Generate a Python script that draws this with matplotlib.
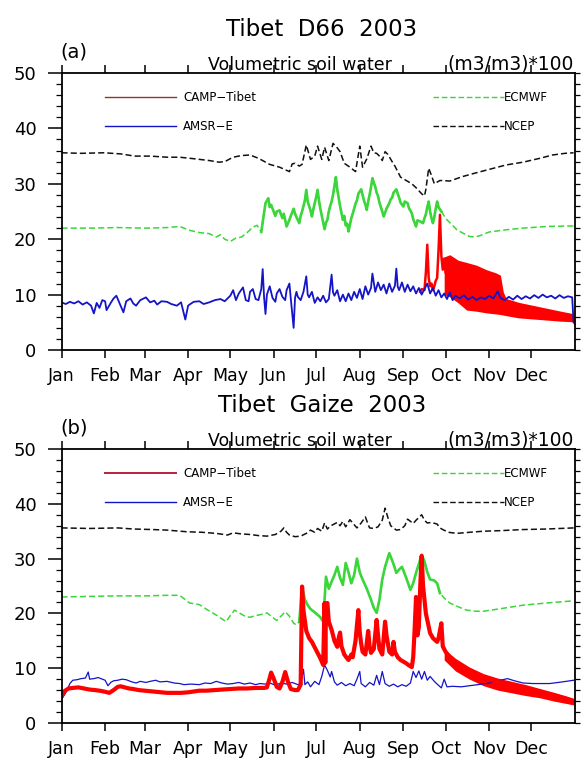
import numpy as np
import matplotlib
matplotlib.use("Agg")
import matplotlib.pyplot as plt
from matplotlib.lines import Line2D
from matplotlib.ticker import MultipleLocator

# ---------- DATA (day of year 2003, soil water (m3/m3)*100) ----------
MONTHS = ["Jan", "Feb", "Mar", "Apr", "May", "Jun",
          "Jul", "Aug", "Sep", "Oct", "Nov", "Dec"]
MONTH_START = [0, 31, 59, 90, 120, 151, 181, 212, 243, 273, 304, 334]

# panel (a) Tibet D66
A_NCEP = [(0, 35.6), (14, 35.5), (30, 35.6), (42, 35.4), (52, 35.0), (63, 35.0), (75, 34.8),
          (84, 34.8), (95, 34.5), (105, 34.2), (112, 33.9), (116, 34.0), (122, 34.8), (128, 35.1),
          (134, 35.2), (140, 34.6), (148, 33.5), (155, 33.0), (162, 32.2), (164, 33.6), (166, 33.7),
          (169, 33.2), (171, 33.5), (174, 37.0), (177, 34.4), (180, 35.0), (182, 36.8), (185, 34.4),
          (187, 36.6), (190, 34.2), (193, 37.3), (196, 36.5), (198, 35.8), (201, 33.7), (205, 33.0),
          (209, 32.2), (212, 36.8), (214, 33.0), (217, 34.5), (220, 36.8), (222, 35.6), (224, 35.5),
          (226, 35.0), (228, 34.2), (230, 35.8), (232, 35.3), (235, 34.0), (237, 33.2), (241, 31.2),
          (245, 30.6), (249, 30.0), (252, 29.3), (256, 28.2), (258, 27.8), (259, 29.0), (261, 32.8),
          (263, 31.5), (265, 30.0), (269, 30.6), (276, 30.5), (285, 31.3), (295, 32.0), (304, 32.6),
          (316, 33.4), (328, 33.9), (340, 34.6), (349, 35.2), (358, 35.5), (364, 35.6)]

A_ECMWF = [(0, 22.0), (20, 22.0), (40, 22.1), (60, 22.0), (75, 22.1), (84, 22.3), (91, 21.6),
           (98, 21.2), (105, 21.0), (110, 20.4), (113, 20.8), (116, 20.0), (120, 19.6), (124, 20.2),
           (128, 20.4), (132, 21.2), (136, 22.2), (139, 22.5), (142, 21.3), (145, 26.5), (147, 27.4),
           (148, 25.8), (149, 26.2), (152, 24.2), (153, 25.0), (155, 25.2), (157, 23.8), (158, 24.6),
           (160, 22.3), (162, 23.5), (163, 24.2), (165, 25.5), (166, 24.6), (167, 24.0), (169, 22.9),
           (170, 24.2), (171, 25.0), (173, 27.0), (174, 28.9), (175, 26.8), (176, 26.0), (177, 25.2),
           (178, 24.1), (179, 25.4), (180, 26.5), (181, 27.6), (182, 28.9), (183, 27.0), (184, 25.5),
           (186, 23.0), (187, 21.8), (188, 23.0), (189, 23.5), (190, 25.0), (191, 26.0), (192, 26.8),
           (193, 28.0), (194, 29.6), (195, 31.2), (196, 29.0), (197, 27.5), (198, 26.0), (200, 23.5),
           (201, 24.2), (202, 22.5), (203, 22.8), (204, 21.4), (205, 22.6), (206, 23.8), (207, 24.6),
           (208, 25.5), (209, 26.4), (210, 27.0), (211, 28.2), (213, 29.0), (214, 28.0), (215, 27.0),
           (216, 26.2), (217, 25.3), (218, 26.8), (219, 28.0), (220, 29.4), (221, 31.0), (222, 30.2),
           (223, 29.5), (224, 28.4), (225, 27.8), (226, 26.6), (227, 25.8), (228, 25.0), (229, 24.1),
           (230, 24.8), (231, 25.5), (232, 26.0), (233, 26.5), (234, 27.2), (235, 27.5), (236, 28.4),
           (238, 29.0), (239, 28.2), (240, 27.5), (241, 26.6), (243, 25.9), (244, 26.8), (246, 26.5),
           (247, 25.6), (249, 24.7), (250, 23.6), (252, 22.3), (253, 23.4), (255, 23.2), (257, 22.9),
           (258, 23.8), (259, 24.5), (260, 25.8), (261, 26.8), (262, 25.0), (263, 23.8), (264, 22.9),
           (265, 24.0), (266, 25.5), (267, 26.8), (268, 25.8), (270, 25.0), (272, 24.2), (274, 23.5),
           (278, 22.5), (281, 21.7), (286, 21.0), (290, 20.5), (294, 20.4), (297, 20.6), (304, 21.3),
           (316, 21.7), (328, 22.0), (345, 22.3), (364, 22.4)]

A_AMSR = [(0, 8.6), (3, 8.3), (6, 8.7), (9, 8.4), (12, 8.8), (15, 8.2), (18, 8.6), (21, 8.0),
          (23, 6.6), (25, 8.5), (27, 7.6), (29, 9.0), (31, 8.8), (32, 7.2), (35, 8.5), (37, 9.3),
          (39, 9.8), (41, 8.6), (44, 6.8), (46, 8.8), (49, 9.3), (51, 8.4), (53, 8.0), (56, 9.0),
          (60, 9.5), (63, 8.6), (66, 8.9), (68, 8.2), (71, 8.8), (75, 8.7), (78, 8.3), (82, 8.0),
          (85, 8.6), (88, 5.5), (90, 8.0), (91, 8.2), (94, 8.7), (98, 8.8), (101, 8.3), (105, 8.6),
          (109, 9.0), (113, 9.2), (116, 8.8), (120, 9.8), (122, 10.8), (124, 9.0), (126, 10.2),
          (129, 11.3), (131, 9.0), (133, 8.8), (134, 10.5), (136, 11.0), (138, 9.2), (140, 9.0),
          (142, 11.0), (143, 14.6), (144, 9.5), (145, 6.5), (146, 10.0), (148, 11.5), (150, 9.4),
          (152, 8.7), (153, 10.2), (155, 11.0), (157, 9.6), (159, 9.0), (160, 10.8), (162, 12.0),
          (163, 9.2), (165, 4.0), (166, 9.4), (167, 10.5), (168, 9.6), (170, 9.0), (172, 10.5),
          (174, 13.3), (175, 10.0), (176, 9.5), (178, 10.5), (180, 8.5), (182, 9.5), (184, 8.8),
          (186, 9.8), (188, 8.6), (190, 9.2), (192, 13.6), (193, 10.4), (194, 9.8), (196, 10.8),
          (198, 8.8), (200, 10.0), (202, 8.8), (204, 10.2), (206, 9.0), (208, 10.5), (210, 9.4),
          (212, 11.0), (214, 9.2), (216, 11.5), (218, 10.0), (220, 11.2), (221, 13.8), (223, 10.5),
          (225, 12.2), (227, 10.8), (229, 11.8), (231, 10.2), (233, 12.0), (235, 10.5), (237, 11.6),
          (238, 14.7), (239, 11.4), (240, 10.8), (242, 12.2), (244, 10.5), (246, 11.8), (248, 10.6),
          (250, 11.5), (252, 10.2), (254, 11.2), (256, 10.0), (258, 11.0), (260, 12.0), (262, 10.2),
          (264, 11.2), (266, 9.8), (268, 10.8), (270, 9.5), (272, 10.2), (274, 9.2), (276, 10.4),
          (278, 9.0), (280, 9.8), (283, 9.3), (286, 9.9), (289, 9.1), (292, 9.6), (295, 9.0),
          (298, 9.5), (301, 9.2), (304, 9.8), (307, 9.3), (310, 10.6), (312, 9.4), (315, 9.0),
          (318, 9.6), (321, 9.1), (324, 9.8), (327, 9.2), (330, 9.7), (333, 9.3), (336, 9.9),
          (339, 9.4), (342, 10.0), (345, 9.5), (348, 9.8), (351, 9.3), (354, 9.9), (357, 9.4),
          (360, 9.7), (363, 9.5), (364, 5.0)]

A_CAMP = [(255, 10.5), (256, 11.0), (258, 10.8), (259, 14.0), (260, 19.0), (261, 13.0),
          (262, 11.5), (263, 12.0), (264, 10.8), (265, 11.5), (266, 12.5), (267, 13.0),
          (268, 18.0), (269, 24.4), (270, 17.0), (271, 14.5), (272, 16.5), (273, 14.0)]
# Oct-Dec: diurnal range drawn as low / high envelope
A_CAMP_DAY = [272, 276, 282, 288, 295, 302, 309, 312, 314, 316, 325, 340, 355, 363, 365]
A_CAMP_LO = [10.0, 9.6, 8.5, 7.2, 7.0, 6.7, 6.5, 6.4, 6.3, 6.2, 5.8, 5.5, 5.2, 5.1, 4.2]
A_CAMP_HI = [16.8, 17.2, 16.2, 15.8, 15.3, 14.5, 13.9, 13.5, 10.5, 9.3, 8.6, 7.8, 7.0, 6.6, 5.5]

# panel (b) Tibet Gaize
B_NCEP = [(0, 35.6), (20, 35.5), (40, 35.6), (51, 35.4), (65, 35.3), (75, 35.2), (89, 34.9),
          (100, 34.8), (110, 34.6), (118, 34.3), (122, 34.7), (128, 34.5), (134, 34.4), (140, 34.2),
          (146, 34.1), (152, 34.4), (156, 35.0), (158, 35.6), (160, 34.8), (162, 34.3), (166, 34.0),
          (170, 34.1), (174, 34.6), (177, 35.2), (180, 34.8), (182, 35.5), (185, 35.0), (187, 36.5),
          (189, 35.4), (191, 35.9), (193, 36.2), (196, 36.6), (198, 36.0), (200, 36.8), (202, 35.8),
          (205, 37.1), (207, 36.5), (210, 35.6), (213, 36.5), (216, 37.6), (218, 36.2), (219, 35.6),
          (222, 35.5), (225, 35.8), (228, 37.0), (230, 39.2), (232, 37.5), (234, 36.0), (236, 35.6),
          (238, 35.2), (241, 35.3), (244, 36.0), (246, 37.2), (248, 36.8), (250, 36.4), (252, 37.0),
          (254, 37.5), (256, 38.0), (258, 37.0), (260, 36.5), (263, 36.6), (267, 36.3), (269, 35.6),
          (271, 35.3), (275, 34.8), (281, 34.6), (290, 34.8), (300, 35.0), (312, 35.1), (328, 35.3),
          (345, 35.4), (364, 35.6)]

B_ECMWF = [(0, 23.0), (20, 23.1), (40, 23.2), (60, 23.2), (75, 23.3), (84, 23.3), (88, 22.5),
           (91, 21.9), (98, 21.6), (104, 20.6), (110, 19.7), (114, 19.0), (117, 18.5), (120, 19.6),
           (123, 20.6), (127, 20.0), (131, 19.4), (134, 19.3), (138, 19.6), (142, 19.8), (146, 20.1),
           (149, 19.5), (153, 18.7), (156, 19.5), (159, 20.3), (162, 19.5), (165, 18.2), (167, 17.9),
           (169, 18.5), (171, 24.8), (173, 22.5), (175, 21.5), (177, 20.8), (180, 20.2), (184, 19.3),
           (186, 18.5), (188, 26.7), (190, 24.5), (192, 25.8), (194, 27.0), (196, 28.5), (198, 26.5),
           (200, 25.2), (202, 29.2), (204, 27.5), (206, 25.5), (208, 27.0), (210, 30.0), (212, 27.5),
           (214, 26.2), (217, 24.5), (220, 22.5), (222, 21.0), (224, 20.1), (226, 22.5), (228, 26.2),
           (230, 28.5), (233, 31.0), (236, 29.0), (238, 27.4), (240, 28.0), (242, 28.5), (245, 26.5),
           (248, 24.3), (250, 25.5), (252, 27.4), (254, 29.0), (256, 30.7), (258, 29.5), (260, 27.5),
           (262, 26.2), (265, 26.0), (267, 25.5), (269, 23.7), (272, 22.8), (276, 21.9), (282, 21.2),
           (288, 20.6), (294, 20.4), (300, 20.4), (308, 20.7), (318, 21.1), (328, 21.5), (345, 21.9),
           (364, 22.3)]

B_AMSR = [(0, 4.3), (3, 5.5), (6, 7.2), (8, 7.8), (11, 7.9), (14, 8.1), (17, 8.2), (19, 9.3),
          (20, 8.0), (23, 8.1), (26, 8.3), (29, 8.0), (31, 7.8), (33, 6.8), (35, 7.4), (37, 7.7),
          (40, 7.8), (43, 8.0), (46, 7.9), (50, 7.5), (53, 7.3), (56, 7.6), (60, 7.4), (63, 7.6),
          (67, 7.8), (70, 7.5), (75, 7.6), (80, 7.3), (84, 7.2), (87, 7.0), (92, 7.1), (98, 7.0),
          (102, 7.3), (106, 7.2), (110, 7.6), (114, 7.3), (118, 7.1), (122, 7.2), (126, 7.4),
          (130, 7.1), (134, 7.3), (138, 7.0), (141, 7.2), (145, 7.1), (148, 7.3), (152, 6.9),
          (156, 7.3), (160, 7.1), (164, 7.4), (168, 7.0), (170, 7.2), (172, 9.8), (173, 7.0),
          (175, 7.5), (177, 6.6), (180, 7.6), (183, 7.0), (185, 8.5), (187, 10.6), (189, 9.6),
          (191, 8.4), (192, 9.4), (194, 7.5), (196, 6.9), (199, 7.4), (202, 6.8), (205, 7.2),
          (208, 6.8), (210, 8.0), (212, 9.4), (213, 7.2), (216, 6.6), (219, 7.4), (222, 6.9),
          (224, 8.7), (226, 7.0), (228, 9.4), (230, 7.2), (233, 6.7), (236, 7.1), (239, 6.6),
          (242, 7.0), (245, 6.7), (248, 7.3), (250, 9.4), (252, 8.3), (254, 9.5), (256, 8.0),
          (258, 9.4), (260, 7.8), (262, 8.5), (265, 7.6), (267, 7.1), (270, 6.4), (272, 8.0),
          (274, 6.6), (278, 6.7), (284, 6.6), (290, 6.8), (296, 7.0), (304, 7.3), (312, 7.8),
          (317, 8.1), (322, 7.7), (328, 7.3), (335, 7.2), (347, 7.2), (356, 7.5), (364, 7.8)]

B_CAMP = [(0, 4.8), (2, 5.8), (5, 6.3), (8, 6.4), (12, 6.5), (16, 6.3), (20, 6.1), (24, 6.0),
          (27, 5.9), (31, 5.7), (34, 5.5), (37, 6.0), (40, 6.6), (42, 6.7), (45, 6.5), (48, 6.3),
          (51, 6.2), (55, 6.0), (59, 5.9), (63, 5.8), (67, 5.7), (71, 5.6), (75, 5.5), (80, 5.5),
          (85, 5.5), (90, 5.6), (95, 5.8), (98, 5.9), (103, 5.9), (108, 6.0), (114, 6.1), (120, 6.2),
          (126, 6.3), (132, 6.3), (138, 6.4), (144, 6.4), (146, 6.5), (148, 8.2), (149, 9.2),
          (151, 8.0), (153, 6.6), (155, 6.3), (157, 7.5), (159, 9.3), (161, 7.5), (163, 6.2),
          (166, 6.0), (168, 6.0), (170, 7.0), (171, 24.9), (172, 20.5), (174, 16.8), (176, 15.5),
          (178, 14.8), (181, 13.3), (184, 11.8), (186, 10.6), (187, 21.9), (187.5, 11.0),
          (188, 21.5), (189, 21.9), (190, 18.5), (192, 17.0), (194, 15.0), (196, 13.9), (197, 15.5),
          (198, 16.5), (199, 14.0), (201, 12.5), (203, 11.8), (204, 11.5), (206, 12.5), (207, 12.0),
          (209, 15.0), (211, 20.6), (212, 16.5), (213, 14.5), (214, 13.0), (216, 12.5), (218, 16.8),
          (219, 14.0), (220, 12.8), (222, 13.5), (224, 18.8), (225, 16.0), (226, 13.5), (228, 12.5),
          (230, 18.5), (231, 16.0), (233, 13.0), (235, 12.5), (236, 14.8), (237, 13.0), (239, 12.0),
          (241, 11.5), (243, 11.2), (245, 10.9), (247, 10.5), (249, 10.2), (250, 12.0), (251, 17.0),
          (252, 23.0), (253, 16.0), (254, 17.5), (255, 25.0), (256, 30.5), (257, 25.0), (259, 20.0),
          (262, 16.4), (264, 15.5), (267, 14.8), (268, 15.5), (270, 18.2), (271, 14.0), (273, 13.0),
          (276, 12.0), (281, 11.0), (287, 10.0), (293, 9.2), (298, 8.5), (304, 7.9), (310, 7.5),
          (317, 7.2), (322, 6.8), (328, 6.4), (335, 6.0), (341, 5.6), (347, 5.2), (353, 4.8),
          (359, 4.4), (364, 4.0)]
B_CAMP_DAY = [272, 280, 290, 300, 310, 320, 330, 340, 350, 358, 364]
B_CAMP_LO = [11.5, 9.5, 8.0, 6.8, 6.0, 5.5, 5.0, 4.6, 4.0, 3.6, 3.3]
B_CAMP_HI = [13.5, 11.8, 10.2, 9.0, 8.2, 7.6, 7.0, 6.3, 5.6, 5.0, 4.5]

# ---------- STYLE ----------
RED = "#ff0000"
BLUE = "#1414c8"
GREEN = "#3ad63a"
BLACK = "#111111"
W, H = 585, 758
plt.rcParams["font.family"] = ["DejaVu Sans"]


def unzip(pairs):
    d, v = zip(*pairs)
    return np.array(d, float), np.array(v, float)


def setup_axes(ax):
    ax.set_xlim(0, 365)
    ax.set_ylim(0, 50)
    ax.set_xticks(MONTH_START)
    ax.set_xticklabels(MONTHS, fontsize=12.5)
    ax.set_yticks(range(0, 51, 10))
    ax.yaxis.set_minor_locator(MultipleLocator(2))
    ax.tick_params(axis="x", which="major", direction="out", length=6, width=1.1,
                   top=True, pad=6)
    ax.tick_params(axis="y", which="major", direction="out", length=10, width=1.1,
                   right=False, labelsize=13, pad=8)
    ax.tick_params(axis="y", which="minor", direction="out", length=4, width=0.9, right=False)
    for s in ax.spines.values():
        s.set_linewidth(1.3)
    axr = ax.twinx()
    axr.set_ylim(0, 50)
    axr.set_yticks(range(0, 51, 10))
    axr.yaxis.set_minor_locator(MultipleLocator(2))
    axr.tick_params(axis="y", which="both", direction="out", length=3.5, width=0.9,
                    labelright=False)
    for s in axr.spines.values():
        s.set_visible(False)


def add_legends(ax, camp_color, camp_lw):
    h1 = [Line2D([], [], color=camp_color, lw=camp_lw),
          Line2D([], [], color=BLUE, lw=1.0)]
    leg1 = ax.legend(h1, ["CAMP\u2212Tibet", "AMSR\u2212E"], loc="upper left",
                     bbox_to_anchor=(0.085, 0.935), frameon=False, fontsize=8.5,
                     handlelength=6, handletextpad=0.6, labelspacing=1.35,
                     borderpad=0, borderaxespad=0)
    ax.add_artist(leg1)
    h2 = [Line2D([], [], color=GREEN, lw=1.0, ls=(0, (4, 2))),
          Line2D([], [], color=BLACK, lw=1.0, ls=(0, (4, 2)))]
    ax.legend(h2, ["ECMWF", "NCEP"], loc="upper left",
              bbox_to_anchor=(0.723, 0.935), frameon=False, fontsize=8.5,
              handlelength=6, handletextpad=0.05, labelspacing=1.35,
              borderpad=0, borderaxespad=0)


def titles(top_px, title, tag):
    fig.text(322 / W, 1 - (top_px - 43) / H, title, fontsize=16.5, ha="center", va="center")
    fig.text(60 / W, 1 - (top_px - 21) / H, tag, fontsize=14, ha="left", va="center")
    fig.text(208 / W, 1 - (top_px - 3) / H, "Volumetric soil water", fontsize=12.5,
             ha="left", va="baseline")
    fig.text(574 / W, 1 - (top_px - 3) / H, "(m3/m3)*100", fontsize=13.5,
             ha="right", va="baseline")


fig = plt.figure(figsize=(W / 100, H / 100), dpi=100)
fig.patch.set_facecolor("white")

# ---------- panel (a) ----------
ax = fig.add_axes([61.5 / W, 1 - 350 / H, 513.5 / W, 277 / H])
setup_axes(ax)
d, v = unzip(A_NCEP)
ax.plot(d, v, color=BLACK, lw=1.1, ls=(0, (4, 2)))
d, v = unzip(A_ECMWF)
ax.plot(d, v, color=GREEN, lw=1.1, ls=(0, (4, 2)))
m = (d >= 142) & (d <= 270)
ax.plot(d[m], v[m], color=GREEN, lw=1.9)
ax.fill_between(A_CAMP_DAY, A_CAMP_LO, A_CAMP_HI, color=RED, lw=0)
d, v = unzip(A_CAMP)
ax.plot(d, v, color=RED, lw=1.8)
d, v = unzip(A_AMSR)
ax.plot(d, v, color=BLUE, lw=1.3)
add_legends(ax, "#8a3a2c", 1.0)
titles(73, "Tibet  D66  2003", "(a)")

# ---------- panel (b) ----------
ax = fig.add_axes([61.5 / W, 1 - 723 / H, 513.5 / W, 274 / H])
setup_axes(ax)
d, v = unzip(B_NCEP)
ax.plot(d, v, color=BLACK, lw=1.1, ls=(0, (4, 2)))
d, v = unzip(B_ECMWF)
ax.plot(d, v, color=GREEN, lw=1.1, ls=(0, (4, 2)))
m = (d >= 168) & (d <= 270)
ax.plot(d[m], v[m], color=GREEN, lw=1.9)
ax.fill_between(B_CAMP_DAY, B_CAMP_LO, B_CAMP_HI, color=RED, lw=0)
d, v = unzip(B_AMSR)
ax.plot(d, v, color=BLUE, lw=0.9)
d, v = unzip(B_CAMP)
ax.plot(d, v, color=RED, lw=3.0)
add_legends(ax, "#b8203c", 1.4)
titles(449, "Tibet  Gaize  2003", "(b)")

fig.savefig("out.png", dpi=100)
